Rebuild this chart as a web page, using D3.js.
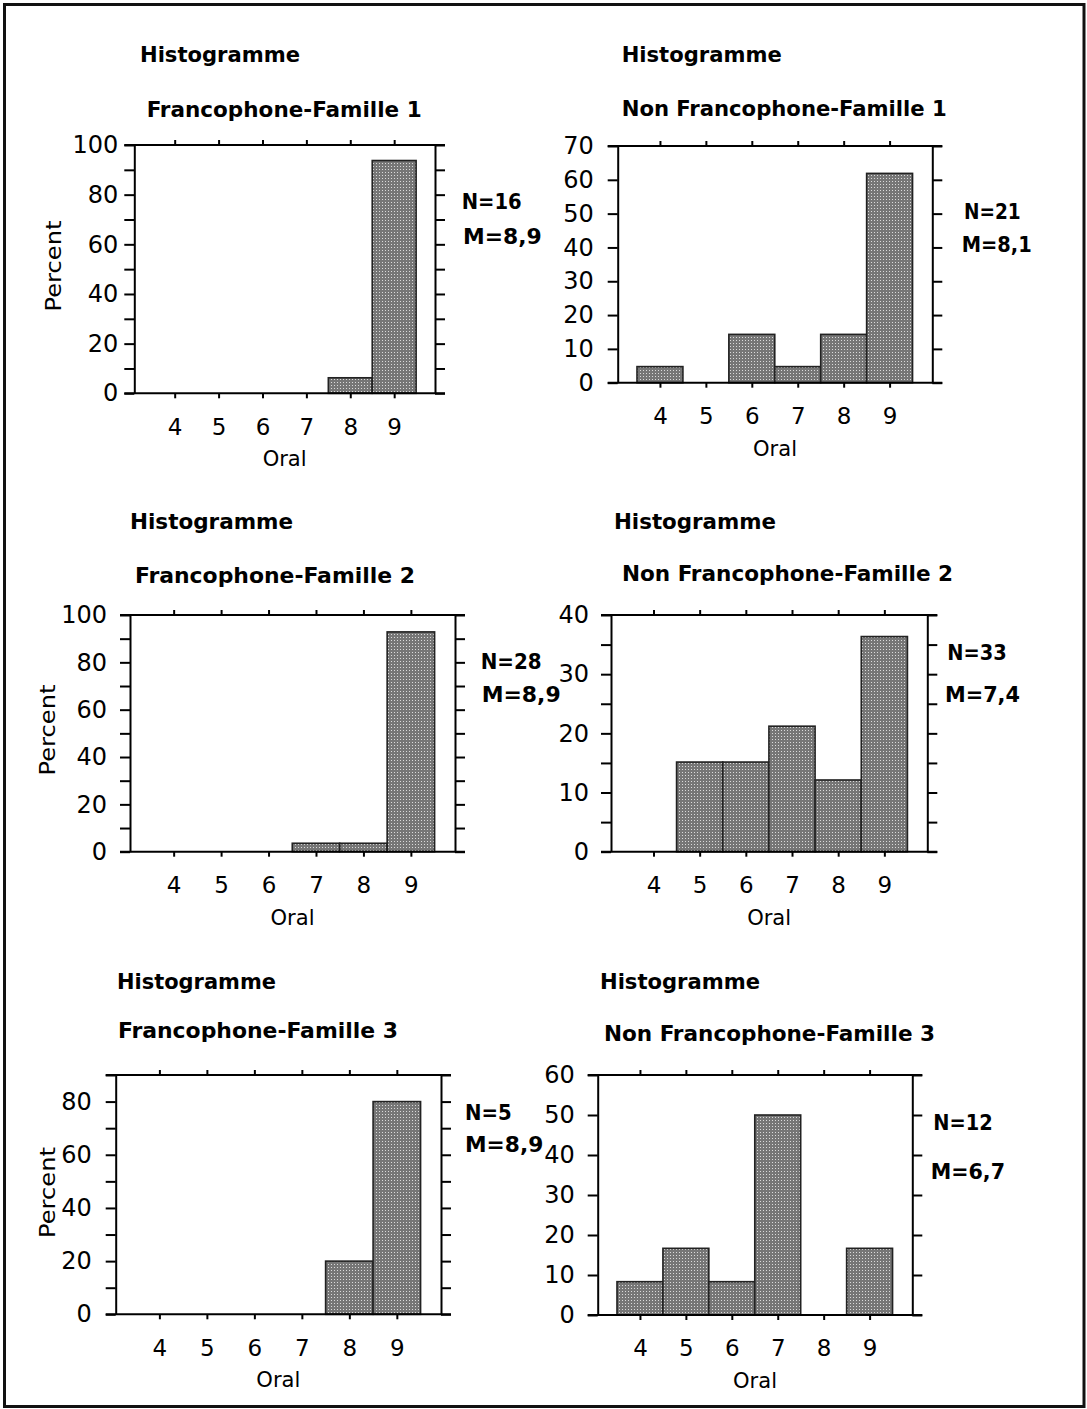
<!DOCTYPE html>
<html>
<head>
<meta charset="utf-8">
<script src="https://cdn.jsdelivr.net/npm/d3@7/dist/d3.min.js"></script>
<style>
  html, body { margin: 0; padding: 0; background: #fff; }
  svg { display: block; }
</style>
</head>
<body>
<script>
// ---------------- data ----------------
const categories = [4, 5, 6, 7, 8, 9];
const heading = "Histogramme";
const groupNames = [
  "Francophone-Famille 1", "Non Francophone-Famille 1",
  "Francophone-Famille 2", "Non Francophone-Famille 2",
  "Francophone-Famille 3", "Non Francophone-Famille 3"
];
const percentF1  = [0, 0, 0, 0, 6.25, 93.75];
const percentNF1 = [4.76, 0, 14.29, 4.76, 14.29, 61.9];
const percentF2  = [0, 0, 0, 3.57, 3.57, 92.86];
const percentNF2 = [0, 15.15, 15.15, 21.21, 12.12, 36.36];
const percentF3  = [0, 0, 0, 0, 20, 80];
const percentNF3 = [8.33, 16.67, 8.33, 50, 0, 16.67];
const nLabels = ["N=16", "N=21", "N=28", "N=33", "N=5", "N=12"];
const mLabels = ["M=8,9", "M=8,1", "M=8,9", "M=7,4", "M=8,9", "M=6,7"];
const yMaxima = [100, 70, 100, 40, 90, 60];
const yTickLabels = [
  [0, 20, 40, 60, 80, 100],
  [0, 10, 20, 30, 40, 50, 60, 70],
  [0, 20, 40, 60, 80, 100],
  [0, 10, 20, 30, 40],
  [0, 20, 40, 60, 80],
  [0, 10, 20, 30, 40, 50, 60]
];
const yTickSteps = [10, 10, 10, 5, 10, 10];
const xAxisTitle = "Oral";
const yAxisTitle = "Percent";
const seriesList = [percentF1, percentNF1, percentF2, percentNF2, percentF3, percentNF3];

// ---------------- layout (pixel placement only) ----------------
const xDomain = [3.08, 9.93];
const layout = [
  {l:134.3, r:435,   t:145,  b:393.3, hx:140,   hy:62, hw:160, sx:146.7, sy:117,   sw:275,
   nx:461.7, ny:208.7, nw:60,   mx:463,   my:244.3, mw:78.7, px:61, py:266,  yPad:6,  pct:true},
  {l:617.7, r:932.3, t:146,  b:382.7, hx:621.7, hy:62, hw:160, sx:621.7, sy:115.5, sw:325,
   nx:964,   ny:218.7, nw:56.7, mx:961.7, my:252,   mw:70,   yPad:14, pct:false},
  {l:130,   r:455,   t:615,  b:851.7, hx:130,   hy:528.5, hw:163, sx:135, sy:582.5, sw:280,
   nx:480.7, ny:668.7, nw:61,   mx:481.7, my:702,   mw:79,   px:55, py:730,  yPad:13, pct:true},
  {l:611,   r:927.3, t:615,  b:851.7, hx:614,   hy:528.5, hw:162, sx:622, sy:580.5, sw:331,
   nx:947.3, ny:660.3, nw:59.4, mx:945,   my:702,   mw:75,   yPad:12, pct:false},
  {l:115.7, r:441,   t:1075, b:1314.3,hx:117,   hy:988.5, hw:159, sx:118, sy:1037.5, sw:280,
   nx:465,   ny:1120.3,nw:46.7, mx:465,   my:1152,  mw:78.3, px:55, py:1192.5, yPad:14, pct:true},
  {l:597.7, r:912.3, t:1075, b:1315,  hx:600,   hy:988.5, hw:160, sx:604, sy:1040.5, sw:331,
   nx:933.3, ny:1130.3,nw:59.4, mx:930.7, my:1178.7,mw:74.3, yPad:13, pct:false}
];

const W = 1087, H = 1409;
const svg = d3.select("body").append("svg").attr("width", W).attr("height", H);

const defs = svg.append("defs");
const pat = defs.append("pattern").attr("id", "halftone")
  .attr("width", 3).attr("height", 3).attr("patternUnits", "userSpaceOnUse");
pat.append("rect").attr("width", 3).attr("height", 3).attr("fill", "#767676");
pat.append("rect").attr("x", 1).attr("y", 1).attr("width", 1).attr("height", 1).attr("fill", "#dadada");

// outer frame
svg.append("rect").attr("x", 4.5).attr("y", 4.5).attr("width", 1079.5).attr("height", 1402)
  .attr("fill", "none").attr("stroke", "#111").attr("stroke-width", 3);

const boldFont = "'DejaVu Sans Condensed', 'DejaVu Sans', sans-serif";
const regFont = "'DejaVu Sans', sans-serif";

function styleAxis(g) {
  g.selectAll("path").attr("stroke", "#000").attr("stroke-width", 2);
  g.selectAll("line").attr("stroke", "#000").attr("stroke-width", 2);
}

seriesList.forEach((vals, i) => {
  const L = layout[i];
  const g = svg.append("g");
  const x = d3.scaleLinear().domain(xDomain).range([L.l, L.r]);
  const y = d3.scaleLinear().domain([0, yMaxima[i]]).range([L.b, L.t]);
  const minorTicks = d3.range(0, yMaxima[i] + 0.001, yTickSteps[i]);
  const labelSet = new Set(yTickLabels[i]);

  // bars
  const data = categories.map((c, k) => ({c, v: vals[k]})).filter(d => d.v > 0);
  g.selectAll("rect.bar").data(data).enter().append("rect")
    .attr("class", "bar")
    .attr("x", d => x(d.c - 0.5))
    .attr("width", d => x(d.c + 0.5) - x(d.c - 0.5))
    .attr("y", d => y(d.v))
    .attr("height", d => y(0) - y(d.v))
    .attr("fill", "url(#halftone)")
    .attr("stroke", "#222")
    .attr("stroke-width", 1.6);

  // left axis
  const left = g.append("g").attr("transform", `translate(${L.l},0)`)
    .call(d3.axisLeft(y).tickValues(minorTicks).tickSize(10).tickSizeOuter(0)
      .tickPadding(L.yPad).tickFormat(d => labelSet.has(d) ? d : ""));
  styleAxis(left);
  left.selectAll("text").attr("font-family", regFont).attr("font-size", 24).attr("fill", "#000");

  // right axis
  const right = g.append("g").attr("transform", `translate(${L.r},0)`)
    .call(d3.axisRight(y).tickValues(minorTicks).tickSize(10).tickSizeOuter(0).tickFormat(""));
  styleAxis(right);

  // top & bottom frame lines
  g.append("line").attr("x1", L.l - 10).attr("x2", L.r + 10).attr("y1", y(yMaxima[i])).attr("y2", y(yMaxima[i]))
    .attr("stroke", "#000").attr("stroke-width", 2);
  g.append("line").attr("x1", L.l - 10).attr("x2", L.r + 10).attr("y1", y(0)).attr("y2", y(0))
    .attr("stroke", "#000").attr("stroke-width", 2);

  // top ticks
  const top = g.append("g").attr("transform", `translate(0,${L.t})`)
    .call(d3.axisTop(x).tickValues(categories).tickSize(5).tickFormat(""));
  top.select(".domain").remove();
  styleAxis(top);

  // bottom axis
  const bottom = g.append("g").attr("transform", `translate(0,${L.b})`)
    .call(d3.axisBottom(x).tickValues(categories).tickSize(5).tickPadding(20).tickFormat(d3.format("d")));
  bottom.select(".domain").remove();
  styleAxis(bottom);
  bottom.selectAll("text").attr("font-family", regFont).attr("font-size", 23).attr("fill", "#000");

  // axis titles
  g.append("text").attr("x", (L.l + L.r) / 2).attr("y", L.b + 73)
    .attr("text-anchor", "middle").attr("font-family", regFont).attr("font-size", 22)
    .attr("textLength", 44).attr("lengthAdjust", "spacingAndGlyphs").text(xAxisTitle);
  if (L.pct) {
    g.append("text").attr("transform", `translate(${L.px},${L.py}) rotate(-90)`)
      .attr("text-anchor", "middle").attr("font-family", regFont).attr("font-size", 22)
      .attr("textLength", 91).attr("lengthAdjust", "spacingAndGlyphs").text(yAxisTitle);
  }

  // titles
  g.append("text").attr("x", L.hx).attr("y", L.hy).attr("font-family", boldFont)
    .attr("font-weight", "bold").attr("font-size", 22)
    .attr("textLength", L.hw).attr("lengthAdjust", "spacingAndGlyphs").text(heading);
  g.append("text").attr("x", L.sx).attr("y", L.sy).attr("font-family", boldFont)
    .attr("font-weight", "bold").attr("font-size", 22)
    .attr("textLength", L.sw).attr("lengthAdjust", "spacingAndGlyphs").text(groupNames[i]);

  // N / M annotations
  g.append("text").attr("x", L.nx).attr("y", L.ny).attr("font-family", boldFont)
    .attr("font-weight", "bold").attr("font-size", 21)
    .attr("textLength", L.nw).attr("lengthAdjust", "spacingAndGlyphs").text(nLabels[i]);
  g.append("text").attr("x", L.mx).attr("y", L.my).attr("font-family", boldFont)
    .attr("font-weight", "bold").attr("font-size", 21)
    .attr("textLength", L.mw).attr("lengthAdjust", "spacingAndGlyphs").text(mLabels[i]);
});
</script>
</body>
</html>
